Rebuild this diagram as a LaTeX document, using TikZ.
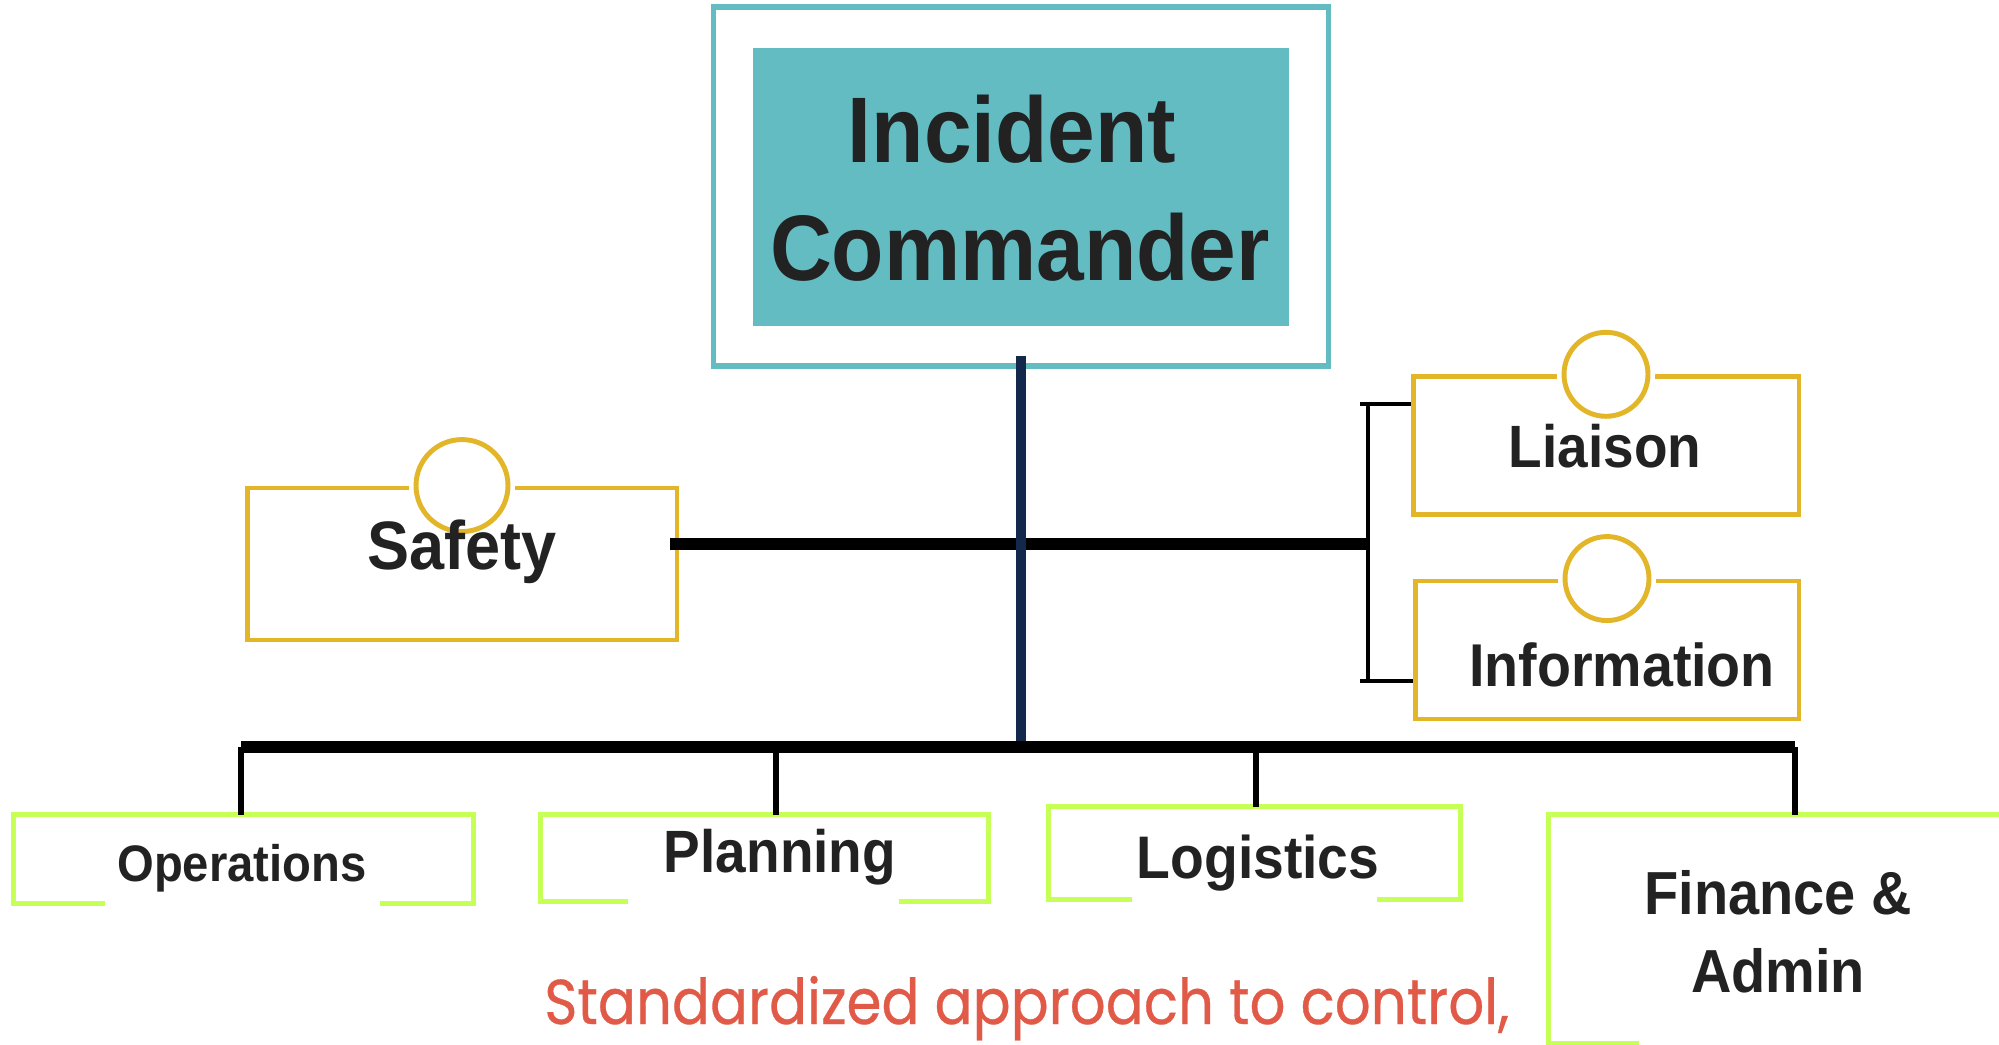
\documentclass[tikz,border=0pt]{standalone}
\usepackage{fontspec}
\usepackage{xcolor}
\usepackage{tikz}
\usetikzlibrary{calc,positioning}
\newfontfamily\boxfont{Liberation Sans}[FakeStretch=0.92]
\newfontfamily\notefont{Poppins}[FakeStretch=0.89, FakeBold=0.5]
\definecolor{icTeal}{HTML}{62BCC1}
\definecolor{icGold}{HTML}{E2B628}
\definecolor{icLime}{HTML}{C6FF55}
\definecolor{icNavy}{HTML}{13294B}
\definecolor{icInk}{HTML}{222222}
\definecolor{icRed}{HTML}{E05A47}

\tikzset{
  officer/.style={draw=icGold, line width=2.8pt, inner sep=0pt, minimum height=2.75cm},
  ring/.style={circle, draw=icGold, fill=white, line width=2.8pt, inner sep=0pt,
    minimum size=#1, preaction={draw=white, line width=8pt}},
  section/.style={inner sep=0pt},
  frame/.style={draw=icLime, line width=2.8pt, line cap=rect},
  ttl/.style={text=icInk, inner sep=0pt, anchor=base,
    font=\boxfont\bfseries\fontsize{#1}{#1}\selectfont},
  bar/.style={draw=black, line width=7pt},
  drop/.style={draw=black, line width=3.9pt},
}

\begin{document}
\begin{tikzpicture}[x=0.02cm, y=-0.02cm]
  \useasboundingbox (0,0) rectangle (1999,1045);
  \clip (0,0) rectangle (1999,1045);

  % commander
  \node[draw=icTeal, line width=3pt, minimum width=12.3cm, minimum height=7.18cm] (ic) at (1021,186.5) {};
  \node[fill=icTeal, minimum width=10.74cm, minimum height=5.56cm] (icfill) at (1021,187) {};
  \node[text=icInk, anchor=base, align=center, inner sep=0pt,
    font=\boxfont\bfseries\fontsize{53}{66.9}\selectfont] (ictext) at (1020,280) {Incident\hspace*{9pt}\\Commander};

  % command staff
  \node[officer, minimum width=8.6cm, minimum height=3.04cm] (safety) at (462,564) {};
  \node[officer, minimum width=7.72cm] (liaison) at (1606,445.5) {};
  \node[officer, minimum width=7.68cm, minimum height=2.76cm] (info) at (1607,650) {};
  \node[ring=1.84cm] (safetyring) at (safety.north) {};
  \node[ring=1.68cm] (liaisonring) at (liaison.north) {};
  \node[ring=1.68cm] (inforing) at (info.north) {};
  \node[ttl=39] at (462,569) {Safety};
  \node[ttl=34] at (1605,467) {Liaison};
  \node[ttl=34.4] at (1622,686) {Information};

  % general staff
  \node[section, minimum width=9.18cm, minimum height=1.76cm] (ops) at (243.5,859) {};
  \node[section, minimum width=8.94cm, minimum height=1.72cm] (plan) at (764.5,858) {};
  \node[section, minimum width=8.22cm, minimum height=1.84cm] (logi) at (1254.5,853) {};
  \node[section, minimum width=9.8cm, minimum height=4.56cm] (fin) at (1794,929) {};
  \foreach \b/\gl/\gr in {ops/89/91, plan/85/87, logi/81/81}
    \draw[frame] (\b.south west) ++(\gl,0) -- (\b.south west) |- (\b.north east) -- (\b.south east) -- ++(-\gr,0);
  \draw[frame] (fin.south west) ++(88,0) -- (fin.south west) |- (fin.north east);
  \node[ttl=29.2] at (242,881) {Operations};
  \node[ttl=34] at (780,872) {Planning};
  \node[ttl=34.2] at (1258,878) {Logistics};
  \node[text=icInk, anchor=base, align=center, inner sep=0pt,
    font=\boxfont\bfseries\fontsize{34.6}{44.2}\selectfont] at (1778,992) {Finance \&\\Admin};

  % connectors
  \coordinate (barL) at (241,747);
  \coordinate (barR) at (1795,747);
  \coordinate (hubR) at (1368,544);
  \coordinate (brTop) at (1368,404);
  \coordinate (brBot) at (1368,681);
  \draw[bar] (safety.east |- hubR) ++(-9,0) -- (hubR);
  \draw[draw=icNavy, line width=6pt] (ic.south) ++(0,-13) -- (ic.south |- barL);
  \draw[bar] (barL) -- (barR);
  \draw[drop] (barL) -- (barL |- ops.north);
  \draw[drop] (776,747) -- (776,815);
  \draw[drop] (1256,747) -- (1256,807);
  \draw[drop] (barR) -- (barR |- fin.north);
  \draw[line width=2.8pt] (brTop) -- (brBot);
  \draw[line width=2.8pt] ($(brTop)+(-8,0)$) -- (liaison.west |- brTop);
  \draw[line width=2.8pt] ($(brBot)+(-8,0)$) -- (info.west |- brBot);

  \node[text=icRed, anchor=base west, inner sep=0pt,
    font=\notefont\fontsize{36}{40}\selectfont] (note) at (544,1024) {Standardized approach to control,};
\end{tikzpicture}
\end{document}
